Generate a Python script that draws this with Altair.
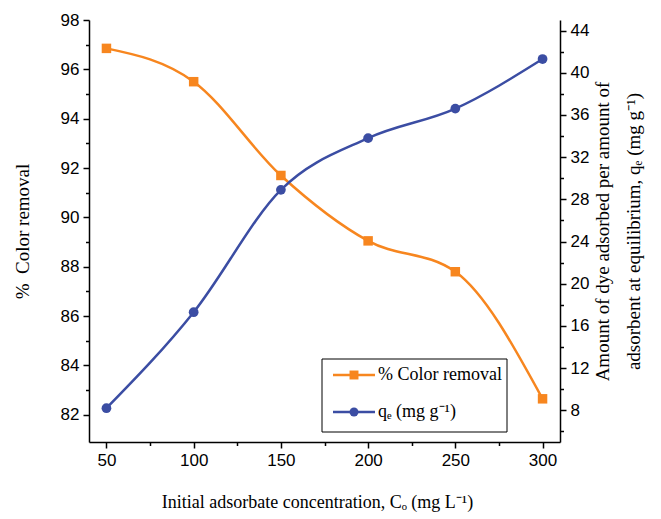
import altair as alt
import pandas as pd

# ---- data ----
conc = [50, 100, 150, 200, 250, 300]
color_removal = [96.85, 95.5, 91.7, 89.05, 87.8, 82.65]
qe = [8.2, 17.3, 28.9, 33.8, 36.6, 41.3]

legend_labels = ["% Color removal", "qₑ (mg g⁻¹)"]

ORANGE = "#F7861F"
BLUE = "#3B4DA3"
SERIF = "Liberation Serif"
SANS = "Liberation Sans"

df = pd.DataFrame({"conc": conc, "removal": color_removal, "qe": qe})

W, H = 471, 422

x_enc = alt.X(
    "conc:Q",
    scale=alt.Scale(domain=[40, 310], nice=False, zero=False),
    axis=alt.Axis(
        values=list(range(50, 301, 25)),
        labelExpr="datum.value % 50 == 0 ? datum.label : ''",
        tickSize={"condition": {"test": "datum.value % 50 == 0", "value": 6}, "value": 3.5},
        title="Initial adsorbate concentration, Cₒ (mg L⁻¹)",
        titleX=228, titleY=65, titleBaseline="alphabetic", titleAlign="center",
        titleFontSize=18, titleFont=SERIF, titleFontWeight="normal",
        labelFontSize=17, labelFont=SANS, labelPadding=4,
        grid=False, domainColor="black", domainWidth=1.5,
        tickColor="black", tickWidth=1.5, labelColor="black", titleColor="black",
    ),
)

orange = alt.Chart(df).mark_line(
    interpolate="monotone", color=ORANGE, strokeWidth=2.5,
    point=alt.OverlayMarkDef(shape="square", size=90, filled=True, color=ORANGE, opacity=1),
).encode(
    x=x_enc,
    y=alt.Y(
        "removal:Q",
        scale=alt.Scale(domain=[80.9, 98], nice=False, zero=False),
        axis=alt.Axis(
            orient="left",
            values=list(range(82, 99, 1)),
            labelExpr="datum.value % 2 == 0 ? datum.label : ''",
            tickSize={"condition": {"test": "datum.value % 2 == 0", "value": 6}, "value": 3.5},
            title="%\u00a0\u00a0Color removal",
            titleX=-61, titleY=211, titleAngle=270, titleBaseline="alphabetic", titleAlign="center",
            titleFontSize=19, titleFont=SERIF, titleFontWeight="normal",
            labelFontSize=17, labelFont=SANS, labelPadding=4,
            grid=False, domainColor="black", domainWidth=1.5,
            tickColor="black", tickWidth=1.5, labelColor="black", titleColor="black",
        ),
    ),
)

blue = alt.Chart(df).mark_line(
    interpolate="monotone", color=BLUE, strokeWidth=2.5,
    point=alt.OverlayMarkDef(shape="circle", size=95, filled=True, color=BLUE, opacity=1),
).encode(
    x=alt.X("conc:Q"),
    y=alt.Y(
        "qe:Q",
        scale=alt.Scale(domain=[5, 45], nice=False, zero=False),
        axis=alt.Axis(
            orient="right",
            values=list(range(6, 45, 2)),
            labelExpr="datum.value % 4 == 0 ? datum.label : ''",
            tickSize={"condition": {"test": "datum.value % 4 == 0", "value": 6}, "value": 3.5},
            title=["Amount of dye adsorbed per amount of",
                   "adsorbent at equilibrium, qₑ (mg g⁻¹)"],
            titleX=48, titleY=211, titleAngle=270, titleBaseline="alphabetic", titleAlign="center",
            titleLineHeight=31,
            titleFontSize=19, titleFont=SERIF, titleFontWeight="normal",
            labelFontSize=17, labelFont=SANS, labelPadding=4,
            grid=False, domainColor="black", domainWidth=1.5,
            tickColor="black", tickWidth=1.5, labelColor="black", titleColor="black",
        ),
    ),
)

# ---- manual legend ----
one = pd.DataFrame({"a": [0]})
box = alt.Chart(one).mark_rect(fill="white", stroke="black", strokeWidth=1).encode(
    x=alt.value(233), x2=alt.value(418), y=alt.value(339), y2=alt.value(412)
)
rows = [355, 392]
leg_layers = [box]
for label, col, shp, yy in zip(legend_labels, [ORANGE, BLUE], ["square", "circle"], rows):
    leg_layers.append(
        alt.Chart(one).mark_rule(color=col, strokeWidth=2.5).encode(
            x=alt.value(244), x2=alt.value(286), y=alt.value(yy)
        )
    )
    leg_layers.append(
        alt.Chart(one).mark_point(shape=shp, size=80, filled=True, color=col, opacity=1).encode(
            x=alt.value(265), y=alt.value(yy)
        )
    )
    leg_layers.append(
        alt.Chart(one).mark_text(
            text=label, font=SERIF, fontSize=18, align="left", baseline="middle", color="black"
        ).encode(x=alt.value(289), y=alt.value(yy))
    )

legend = alt.layer(*leg_layers)

chart = (
    alt.layer(orange, blue, legend)
    .resolve_scale(y="independent")
    .properties(
        width=W, height=H,
        autosize=alt.AutoSizeParams(type="none"),
        padding={"left": 89, "top": 20, "right": 101, "bottom": 77},
        background="white",
    )
    .configure_view(stroke=None)
)

chart.save("out.html", embed_options={"renderer": "svg", "actions": False})
